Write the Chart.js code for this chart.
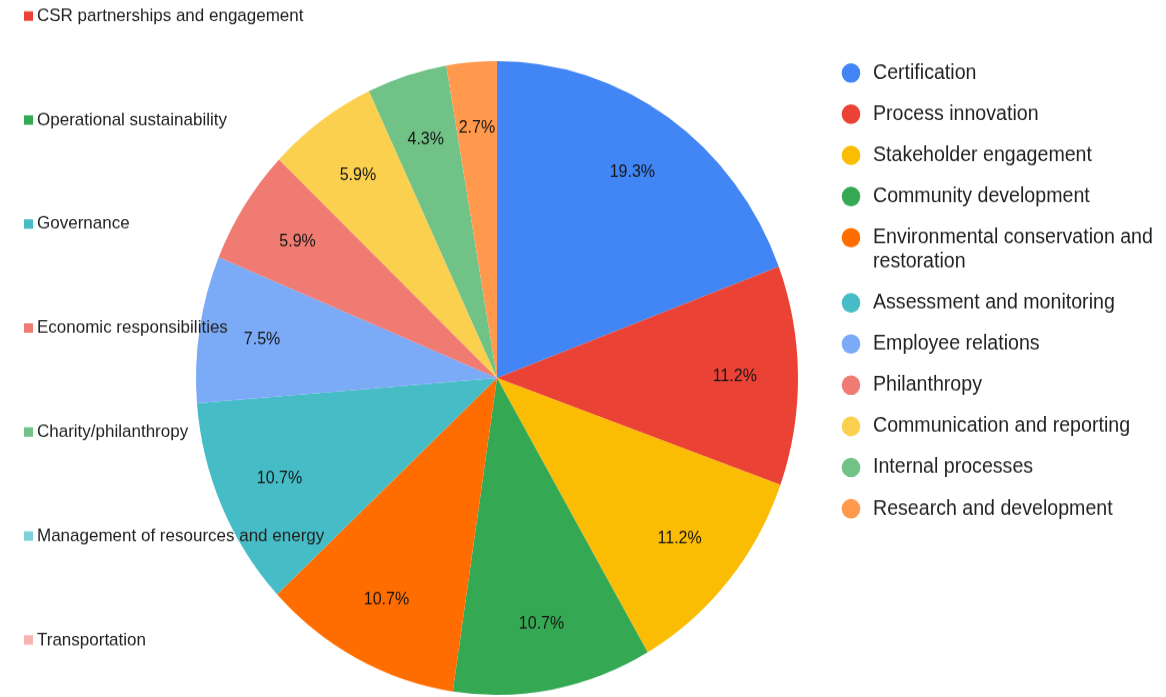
<!DOCTYPE html>
<html>
<head>
<meta charset="utf-8">
<script src="https://cdn.jsdelivr.net/npm/chart.js@4/dist/chart.umd.min.js"></script>
<style>
  html, body { margin: 0; padding: 0; background: #fff; }
  body { width: 1166px; height: 697px; overflow: hidden; }
  #wrap { width: 1166px; height: 662px; transform: scaleY(1.0529); transform-origin: 0 0; }
</style>
</head>
<body>
<div id="wrap"><canvas id="csrPie" width="1166" height="662"></canvas></div>
<script>
// slice labels and their shares (%)
const labels = [
    "Certification", "Process innovation", "Stakeholder engagement", "Community development",
    "Environmental conservation and restoration", "Assessment and monitoring", "Employee relations",
    "Philanthropy", "Communication and reporting", "Internal processes", "Research and development"
];
const shares = [19.3, 11.2, 11.2, 10.7, 10.7, 10.7, 7.5, 5.9, 5.9, 4.3, 2.7];
const colors = [
    "#4285F4", "#EA4335", "#FBBC04", "#34A853", "#FF6D01", "#46BDC6",
    "#7BAAF7", "#F07B72", "#FCD04F", "#71C287", "#FF994D"
];

// second key, listed down the left side
const sideLabels = [
    "CSR partnerships and engagement", "Operational sustainability", "Governance",
    "Economic responsibilities", "Charity/philanthropy", "Management of resources and energy", "Transportation"
];
const sideColors = ["#EA4335", "#34A853", "#46BDC6", "#F07B72", "#71C287", "#7ED1D7", "#F7B4AE"];

const FONT = '"Liberation Sans", Arial, sans-serif';

const sliceLabels = {
    id: "sliceLabels",
    afterDatasetsDraw(chart) {
        const ctx = chart.ctx;
        const meta = chart.getDatasetMeta(0);
        ctx.save();
        ctx.font = "16px " + FONT;
        ctx.fillStyle = "#151515";
        ctx.textAlign = "center";
        ctx.textBaseline = "middle";
        meta.data.forEach((arc, i) => {
            const p = arc.getProps(["x", "y", "startAngle", "endAngle", "outerRadius"], true);
            const mid = (p.startAngle + p.endAngle) / 2;
            const r = p.outerRadius * 0.79;
            ctx.fillText(shares[i].toFixed(1) + "%", p.x + Math.cos(mid) * r, p.y + Math.sin(mid) * r);
        });
        ctx.restore();
    }
};

const keys = {
    id: "keys",
    afterDraw(chart) {
        const ctx = chart.ctx;
        ctx.save();
        ctx.textBaseline = "middle";
        ctx.textAlign = "left";

        // right key with round markers, long names wrap to two lines
        ctx.font = "19.6px " + FONT;
        let y = 69.3;
        labels.forEach((name, i) => {
            ctx.fillStyle = colors[i];
            ctx.beginPath();
            ctx.arc(851, y, 9.3, 0, Math.PI * 2);
            ctx.fill();
            ctx.fillStyle = "#222";
            let lines = [name];
            if (ctx.measureText(name).width > 285) {
                const cut = name.lastIndexOf(" ");
                lines = [name.slice(0, cut), name.slice(cut + 1)];
            }
            lines.forEach((ln, k) => ctx.fillText(ln, 873, y + k * 22.8));
            y += 39.1 + (lines.length - 1) * 22.8;
        });

        // left key with square markers
        ctx.font = "17px " + FONT;
        sideLabels.forEach((name, i) => {
            const ly = 15.2 + i * 98.77;
            ctx.fillStyle = sideColors[i];
            ctx.fillRect(24, ly - 4.5, 9, 9);
            ctx.fillStyle = "#222";
            ctx.fillText(name, 37, ly);
        });
        ctx.restore();
    }
};

new Chart(document.getElementById("csrPie").getContext("2d"), {
    type: "pie",
    data: {
        labels: labels,
        datasets: [{
            data: shares,
            backgroundColor: colors,
            borderWidth: 0
        }]
    },
    options: {
        responsive: false,
        animation: false,
        layout: { padding: { left: 196, right: 368, top: 58, bottom: 2 } },
        plugins: {
            legend: { display: false },
            tooltip: { enabled: false }
        }
    },
    plugins: [sliceLabels, keys]
});
</script>
</body>
</html>
